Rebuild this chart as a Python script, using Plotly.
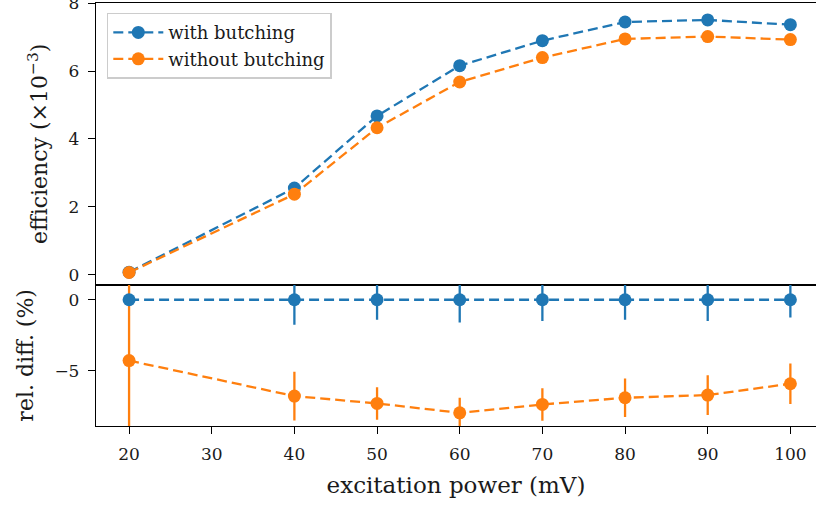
import plotly.graph_objects as go
from plotly.subplots import make_subplots

power = [20, 40, 50, 60, 70, 80, 90, 100]
eff_with = [0.07, 2.55, 4.68, 6.16, 6.90, 7.45, 7.51, 7.37]
eff_without = [0.06, 2.37, 4.33, 5.68, 6.40, 6.95, 7.02, 6.93]
rel_with = [0, 0, 0, 0, 0, 0, 0, 0]
rel_with_err = [0.3, 1.77, 1.41, 1.60, 1.49, 1.41, 1.49, 1.25]
rel_without = [-4.29, -6.79, -7.31, -7.97, -7.38, -6.91, -6.72, -5.92]
rel_without_err = [5.6, 1.72, 1.15, 1.06, 1.15, 1.35, 1.40, 1.43]

x_ticks = [20, 30, 40, 50, 60, 70, 80, 90, 100]
eff_ticks = [0, 2, 4, 6, 8]
rel_ticks = [0, -5]

BLUE = "#1f77b4"
ORANGE = "#ff7f0e"
FONT = "DejaVu Serif"
TXT = "#1a1a1a"

fig = make_subplots(rows=2, cols=1, shared_xaxes=True, vertical_spacing=0)

def add(x, y, color, name, row, err=None, legend=True):
    fig.add_trace(go.Scatter(
        x=x, y=y, mode="lines+markers", name=name, showlegend=legend,
        line=dict(color=color, width=2.3, dash="10px,5px"),
        marker=dict(color=color, size=13),
        error_y=(dict(type="data", array=err, color=color, thickness=2.3, width=0)
                 if err is not None else None),
    ), row=row, col=1)

add(power, eff_with, BLUE, "with butching", 1)
add(power, eff_without, ORANGE, "without butching", 1)
add(power, rel_without, ORANGE, "without butching", 2, rel_without_err, legend=False)
add(power, rel_with, BLUE, "with butching", 2, rel_with_err, legend=False)

axis_common = dict(showline=True, linecolor="black", linewidth=1.3, showgrid=False,
                   zeroline=False, ticks="outside", ticklen=7, tickwidth=1.3,
                   tickcolor="black", automargin=False, ticklabeloverflow="allow",
                   ticklabelstandoff=5,
                   tickfont=dict(family=FONT, size=17, color=TXT))

fig.update_layout(
    width=816, height=507,
    margin=dict(l=96, r=0, t=3, b=81),
    plot_bgcolor="white", paper_bgcolor="white",
    font=dict(family=FONT, color=TXT),
    legend=dict(x=0.015, y=0.977, xanchor="left", yanchor="top",
                bgcolor="rgba(255,255,255,0.8)", bordercolor="#cccccc", borderwidth=1.5,
                itemwidth=50,
                font=dict(family=FONT, size=18, color=TXT), tracegroupgap=0),
)

fig.update_xaxes(**axis_common, range=[16.0, 103.1], tickvals=x_ticks, mirror=True)
fig.update_xaxes(row=1, col=1, showticklabels=False, ticks="")
fig.update_xaxes(row=2, col=1, title=dict(text="excitation power (mV)",
                 font=dict(family=FONT, size=23, color=TXT), standoff=14))
fig.update_yaxes(**axis_common)
fig.update_yaxes(row=1, col=1, range=[-0.30, 8.01], tickvals=eff_ticks, domain=[0.334, 1],
                 title=dict(text="efficiency (×10<sup>−3</sup>)",
                            font=dict(family=FONT, size=22, color=TXT), standoff=14))
fig.update_yaxes(row=2, col=1, range=[-8.9, 1.06], tickvals=rel_ticks, domain=[0, 0.334],
                 title=dict(text="rel. diff. (%)",
                            font=dict(family=FONT, size=22, color=TXT), standoff=14))

fig.write_html("out.html", config={"displayModeBar": False},
               post_script="document.body.style.margin='0';")
